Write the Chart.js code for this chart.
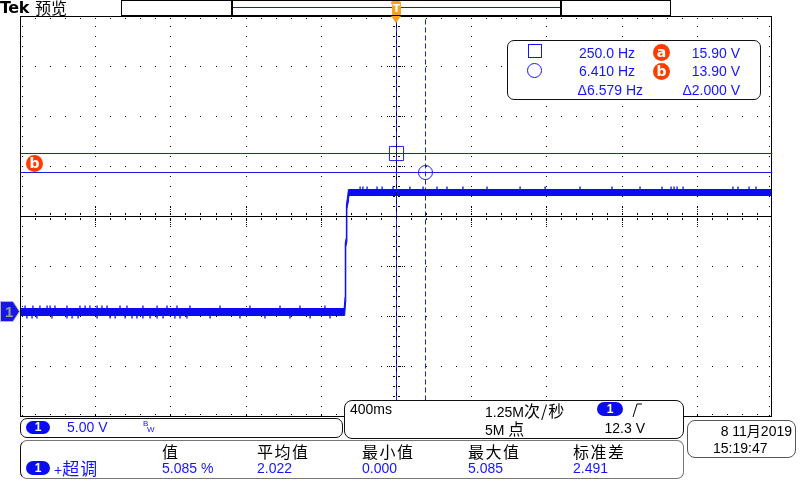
<!DOCTYPE html>
<html><head><meta charset="utf-8">
<script src="https://cdn.jsdelivr.net/npm/chart.js@4/dist/chart.umd.min.js"></script>
<style>
body{margin:0;background:#fff;}
#wrap{position:relative;width:800px;height:480px;overflow:hidden;background:#fff;font-family:"Liberation Sans",Arial,sans-serif;}
canvas{position:absolute;left:0;top:0;}
.t{position:absolute;white-space:nowrap;font-size:14px;line-height:16px;color:#1414ff;}
.k{color:#000;}
.cjk{font-family:"Noto Sans CJK SC",sans-serif;}
.box{position:absolute;border:1px solid #111;border-radius:7px;background:#fff;box-sizing:border-box;}
.pill{position:absolute;background:#0b0bf0;color:#fff;border-radius:7px;font:bold 12px "Liberation Sans",sans-serif;text-align:center;}
.mk{position:absolute;border-radius:50%;background:#ff3c00;color:#fff;font:bold 14px "DejaVu Sans",sans-serif;text-align:center;}
</style></head>
<body><div id="wrap">
<canvas id="c" width="800" height="480"></canvas>

<!-- header -->
<div class="t k" style="left:0;top:-1px;font:bold 16px 'DejaVu Sans';letter-spacing:-0.5px;line-height:18px;">Tek</div>
<div class="t k cjk" style="left:35px;top:-3px;font-size:16px;line-height:20px;">预览</div>
<div style="position:absolute;left:121px;top:0;width:550px;height:16px;border:1px solid #000;box-sizing:border-box;"></div>
<div style="position:absolute;left:231px;top:0;width:331px;height:16px;border-left:2px solid #000;border-right:2px solid #000;box-sizing:border-box;"></div>
<div style="position:absolute;left:233px;top:7px;width:327px;height:1px;background:#1a1ad0;"></div>
<div style="position:absolute;left:391px;top:1px;width:10px;height:4px;background:#f6a21e;border-radius:2px;"></div>
<div style="position:absolute;left:392px;top:2px;width:9px;height:13px;background:#f6a21e;border-radius:1px;color:#fff;font:bold 11px 'DejaVu Sans';text-align:center;line-height:13px;">T</div>
<div style="position:absolute;left:391px;top:16px;width:0;height:0;border-left:5px solid transparent;border-right:5px solid transparent;border-top:7px solid #f6a21e;"></div>

<!-- cursor readout -->
<div class="box" style="left:507px;top:40px;width:254px;height:60px;"></div>
<div style="position:absolute;left:528px;top:44px;width:14px;height:14px;border:1px solid #1414ff;box-sizing:border-box;"></div>
<div style="position:absolute;left:527px;top:63px;width:15px;height:15px;border:1px solid #1414ff;border-radius:50%;box-sizing:border-box;"></div>
<div class="t" style="right:165px;top:45px;">250.0 Hz</div>
<div class="t" style="right:165px;top:63px;">6.410 Hz</div>
<div class="t" style="right:157px;top:82px;">Δ6.579 Hz</div>
<div class="mk" style="left:653px;top:44px;width:17px;height:17px;line-height:16px;">a</div>
<div class="mk" style="left:653px;top:63px;width:17px;height:17px;line-height:16px;">b</div>
<div class="t" style="right:60px;top:45px;">15.90 V</div>
<div class="t" style="right:60px;top:63px;">13.90 V</div>
<div class="t" style="right:60px;top:82px;">Δ2.000 V</div>

<!-- left markers -->
<div class="mk" style="left:26px;top:155px;width:17px;height:17px;line-height:16px;">b</div>
<svg style="position:absolute;left:0;top:300px;" width="22" height="24">
<polygon points="0.5,1.5 13,1.5 19.5,11.5 13,21.5 0.5,21.5" fill="#1616e8" stroke="#b8b8a8" stroke-width="1"/>
<text x="5" y="17" font-family="Liberation Sans" font-weight="bold" font-size="15" fill="#9a9a90">1</text>
</svg>

<!-- channel box -->
<div class="box" style="left:20px;top:418px;width:323px;height:20px;"></div>
<div class="pill" style="left:26px;top:421px;width:24px;height:13px;line-height:13px;">1</div>
<div class="t" style="left:67px;top:419px;">5.00 V</div>
<div class="t" style="left:143px;top:419px;font-size:8px;line-height:9px;">B</div>
<div class="t" style="left:147px;top:425px;font-size:8px;line-height:9px;">W</div>

<!-- measurement box -->
<div class="box" style="left:20px;top:440px;width:664px;height:39px;border-color:#777;border-left-color:#111;"></div>
<div class="t k cjk" style="left:162px;top:441px;font-size:16px;line-height:20px;">值</div>
<div class="t k cjk" style="left:257px;top:441px;font-size:16px;line-height:20px;letter-spacing:1.5px;">平均值</div>
<div class="t k cjk" style="left:362px;top:441px;font-size:16px;line-height:20px;letter-spacing:1.5px;">最小值</div>
<div class="t k cjk" style="left:468px;top:441px;font-size:16px;line-height:20px;letter-spacing:1.5px;">最大值</div>
<div class="t k cjk" style="left:573px;top:441px;font-size:16px;line-height:20px;letter-spacing:1.5px;">标准差</div>
<div class="pill" style="left:26px;top:461px;width:24px;height:14px;line-height:14px;">1</div>
<div class="t" style="left:54px;top:458px;font-size:14px;line-height:20px;">+<span class="cjk" style="font-size:17px;letter-spacing:1px;">超调</span></div>
<div class="t" style="left:162px;top:460px;">5.085 %</div>
<div class="t" style="left:257px;top:460px;">2.022</div>
<div class="t" style="left:362px;top:460px;">0.000</div>
<div class="t" style="left:468px;top:460px;">5.085</div>
<div class="t" style="left:573px;top:460px;">2.491</div>

<!-- timebase box -->
<div class="box" style="left:344px;top:400px;width:340px;height:39px;border-radius:8px;"></div>
<div class="t k" style="left:350px;top:401px;">400ms</div>
<div class="t k" style="left:485px;top:400px;line-height:20px;">1.25M<span class="cjk" style="font-size:16px;letter-spacing:1px;">次/秒</span></div>
<div class="pill" style="left:597px;top:402px;width:26px;height:14px;line-height:14px;">1</div>
<svg style="position:absolute;left:630px;top:401px;" width="14" height="18"><polyline points="3,16 7,3 12,3" fill="none" stroke="#000" stroke-width="1"/></svg>
<div class="t k" style="left:485px;top:418px;line-height:20px;">5M <span class="cjk" style="font-size:16px;">点</span></div>
<div class="t k" style="right:155px;top:420px;">12.3 V</div>

<!-- date box -->
<div class="box" style="left:687px;top:420px;width:109px;height:38px;border-radius:8px;border-color:#555;"></div>
<div class="t k" style="right:8px;top:420px;line-height:20px;">8 11<span class="cjk">月</span>2019</div>
<div class="t k" style="left:713px;top:440px;">15:19:47</div>
</div>

<script>
// ---- data ----
// time axis in ms (400 ms/div, 10 divisions), voltage in V (5 V/div, ground at channel-1 marker)
const gridTimesMs = [-2000, -1600, -1200, -800, -400, 0, 400, 800, 1200, 1600, 2000];
const gridVolts = [-10.4, -5.4, -0.4, 4.6, 9.6, 14.6, 19.6, 24.6, 29.6];
// waveform envelope (upper / lower trace edge)
const upperTimes = [-2000, -276, -271, -270, -265, -264, -257, -253, 2000];
const upperVolts = [0.35, 0.35, 1.5, 6.9, 7.4, 10.7, 11.6, 12.25, 12.25];
const lowerTimes = [-2000, -273, -268, -267, -262, -261, -254, -250, 2000];
const lowerVolts = [-0.35, -0.35, 1.0, 6.5, 7.0, 10.3, 11.0, 11.65, 11.65];
// noise spikes sticking out of the trace band
const spikeHighTimes = [-191, -176, -154, -101, -74, -16, 74, 144, 218, 271, 356, 484, 660, 793, 979, 1149, 1298, 1415, 1463, 1479, 1495, 1527, 1792, 1819, 1878, 1915];
const spikeHighVolts = 12.35;
const spikeLowDownTimes = [-1963, -1936, -1910, -1830, -1750, -1723, -1691, -1590, -1521, -1494, -1441, -1404, -1378, -1346, -1308, -1271, -1239, -1176, -1149, -1112, -989, -830, -697, -564, -457, -351];
const spikeLowDownVolts = -0.45;
const spikeLowUpTimes = [-1973, -1931, -1894, -1856, -1840, -1814, -1750, -1681, -1654, -1628, -1590, -1564, -1537, -1468, -1431, -1346, -1271, -1218, -1165, -1096, -936, -777, -617, -511, -378];
const spikeLowUpVolts = 0.45;
// cursors
const cursorVolts = [15.90, 13.90];      // a, b
const cursorFreqHz = [250.0, 6.410];     // square, circle
const cursorTimesMs = cursorFreqHz.map(f => 1000 / f);

const BLUE = '#0c0cf2';
const CUR = '#1e1ee0';
const xMin = gridTimesMs[0], xMax = gridTimesMs[gridTimesMs.length - 1];
const yMin = gridVolts[0], yMax = gridVolts[gridVolts.length - 1];

function pts(xs, ys) { return xs.map((x, i) => ({ x, y: ys[i] })); }
function flat(xs, v) { return xs.map(x => ({ x, y: v })); }

const grat = {
  id: 'grat',
  afterDatasetDraw(chart, args) {
    if (args.index !== 0) return;
    const { ctx, chartArea: a, scales: { x, y } } = chart;
    ctx.save();
    ctx.fillStyle = '#000';
    const px = v => Math.min(Math.round(x.getPixelForValue(v)), a.right - 1);
    const py = v => Math.min(Math.round(y.getPixelForValue(v)), a.bottom - 1);
    const minorX = [], minorY = [];
    for (let i = 0; i < gridTimesMs.length - 1; i++)
      for (let k = 0; k < 5; k++) minorX.push(gridTimesMs[i] + (gridTimesMs[i + 1] - gridTimesMs[i]) * k / 5);
    minorX.push(xMax);
    for (let i = 0; i < gridVolts.length - 1; i++)
      for (let k = 0; k < 5; k++) minorY.push(gridVolts[i] + (gridVolts[i + 1] - gridVolts[i]) * k / 5);
    minorY.push(yMax);
    const cxi = Math.floor(gridTimesMs.length / 2), cyi = Math.floor(gridVolts.length / 2);
    gridTimesMs.forEach((t, i) => {
      if (i === 0 || i === gridTimesMs.length - 1 || i === cxi) return;
      const X = px(t);
      minorY.forEach(v => ctx.fillRect(X, py(v), 1, 1));
    });
    gridVolts.forEach((v, i) => {
      if (i === 0 || i === gridVolts.length - 1 || i === cyi) return;
      const Y = py(v);
      minorX.forEach(t => ctx.fillRect(px(t), Y, 1, 1));
    });
    const CX = px(gridTimesMs[cxi]), CY = py(gridVolts[cyi]);
    ctx.fillRect(CX, a.top, 1, a.bottom - a.top);
    ctx.fillRect(a.left, CY, a.right - a.left, 1);
    minorX.forEach(t => { const X = px(t); ctx.fillRect(X, CY - 3, 1, 2); ctx.fillRect(X, CY + 2, 1, 2); });
    minorY.forEach(v => { const Y = py(v); ctx.fillRect(CX - 3, Y, 2, 1); ctx.fillRect(CX + 2, Y, 2, 1); });
    gridTimesMs.forEach(t => { const X = px(t); for (let d = 2; d <= 8; d += 2) { ctx.fillRect(X, CY - d - 1, 1, 1); ctx.fillRect(X, CY + d, 1, 1); } });
    gridVolts.forEach(v => { const Y = py(v); for (let d = 2; d <= 8; d += 2) { ctx.fillRect(CX - d - 1, Y, 1, 1); ctx.fillRect(CX + d, Y, 1, 1); } });
    const L = Math.round(a.left), T = Math.round(a.top), R = Math.round(a.right) - 1, B = Math.round(a.bottom);
    ctx.fillRect(L, T, 1, B - T + 1);
    ctx.fillRect(R, T, 1, B - T + 1);
    ctx.fillRect(L, T, R - L + 1, 1);
    ctx.fillRect(L, B, R - L + 1, 1);
    minorY.forEach(v => { const Y = py(v); ctx.fillRect(L + 2, Y, 1, 1); ctx.fillRect(R - 2, Y, 1, 1); });
    minorX.forEach(t => { const X = px(t); ctx.fillRect(X, T + 2, 1, 1); ctx.fillRect(X, B - 2, 1, 1); });
    ctx.restore();
  }
};

// snap thin lines onto whole pixels so they stay crisp
const snap = {
  id: 'snap',
  beforeDatasetDraw(chart, args) {
    const ds = chart.data.datasets[args.index];
    if (!ds.snap) return;
    const p = args.meta.data[0];
    chart.ctx.save();
    chart.ctx.translate(Math.floor(p.x) + 0.5 - p.x, Math.floor(p.y) + 0.5 - p.y);
  },
  afterDatasetDraw(chart, args) {
    const ds = chart.data.datasets[args.index];
    if (!ds.snap) return;
    chart.ctx.restore();
  }
};

const spikeStyle = { type: 'scatter', pointStyle: 'line', rotation: 90, pointRadius: 2, borderColor: BLUE, borderWidth: 1.3, order: 9 };

new Chart(document.getElementById('c'), {
  type: 'line',
  data: {
    datasets: [
      { data: pts(upperTimes, upperVolts), borderColor: BLUE, backgroundColor: BLUE, borderWidth: 1, pointRadius: 0, fill: '+1', order: 10 },
      { data: pts(lowerTimes, lowerVolts), borderColor: BLUE, backgroundColor: BLUE, borderWidth: 1, pointRadius: 0, fill: false, order: 10 },
      { data: [{ x: xMin, y: cursorVolts[0] }, { x: xMax, y: cursorVolts[0] }], borderColor: CUR, borderWidth: 1, pointRadius: 0, order: 1, snap: true },
      { data: [{ x: xMin, y: cursorVolts[1] }, { x: xMax, y: cursorVolts[1] }], borderColor: CUR, borderWidth: 1, pointRadius: 0, order: 1, snap: true },
      { data: [{ x: cursorTimesMs[0], y: yMin }, { x: cursorTimesMs[0], y: yMax }], borderColor: CUR, borderWidth: 1, borderDash: [5, 3], pointRadius: 0, order: 1, snap: true },
      { data: [{ x: cursorTimesMs[1], y: yMin }, { x: cursorTimesMs[1], y: yMax }], borderColor: CUR, borderWidth: 1, borderDash: [5, 3], pointRadius: 0, order: 1, snap: true },
      { type: 'scatter', data: [{ x: cursorTimesMs[0], y: cursorVolts[0] }], pointStyle: 'rect', pointRadius: 10, borderColor: CUR, backgroundColor: 'rgba(0,0,0,0)', borderWidth: 1, order: 0, snap: true },
      { type: 'scatter', data: [{ x: cursorTimesMs[1], y: cursorVolts[1] }], pointStyle: 'circle', pointRadius: 7, borderColor: CUR, backgroundColor: 'rgba(0,0,0,0)', borderWidth: 1, order: 0, snap: true },
      Object.assign({ data: flat(spikeHighTimes, spikeHighVolts) }, spikeStyle),
      Object.assign({ data: flat(spikeLowDownTimes, spikeLowDownVolts) }, spikeStyle),
      Object.assign({ data: flat(spikeLowUpTimes, spikeLowUpVolts) }, spikeStyle)
    ]
  },
  options: {
    responsive: false,
    animation: false,
    devicePixelRatio: 1,
    layout: { padding: { left: 20, top: 16, right: 28, bottom: 64 } },
    plugins: { legend: { display: false }, tooltip: { enabled: false } },
    elements: { line: { tension: 0 } },
    scales: {
      x: { type: 'linear', min: xMin, max: xMax, display: false },
      y: { type: 'linear', min: yMin, max: yMax, display: false }
    }
  },
  plugins: [grat, snap]
});
</script>
</body></html>
